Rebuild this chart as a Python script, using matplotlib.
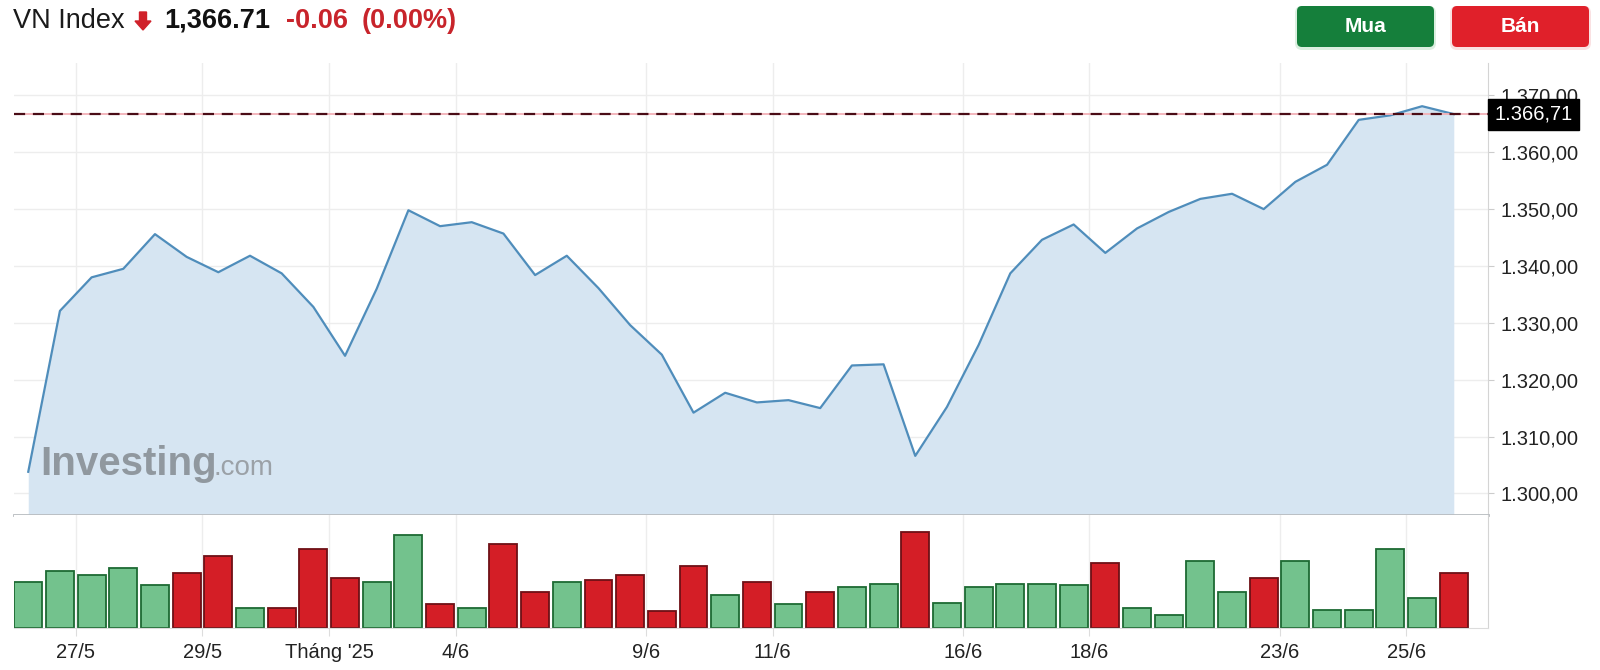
import numpy as np
import matplotlib
matplotlib.use('Agg')
import matplotlib.pyplot as plt
from matplotlib.patches import FancyBboxPatch, FancyArrow
from matplotlib.ticker import FuncFormatter

plt.rcParams['font.family'] = ['Liberation Sans', 'DejaVu Sans']

#### data (2 points per trading day) ####
price = [1303.8, 1332.1, 1338.0, 1339.5, 1345.6, 1341.6, 1338.9, 1341.8, 1338.7, 1332.8,
         1324.2, 1336.0, 1349.8, 1347.0, 1347.7, 1345.7, 1338.4, 1341.8, 1336.1, 1329.6,
         1324.4, 1314.2, 1317.7, 1316.0, 1316.4, 1315.0, 1322.5, 1322.7, 1306.6, 1315.2,
         1326.1, 1338.7, 1344.6, 1347.3, 1342.3, 1346.6, 1349.5, 1351.8, 1352.7, 1350.0,
         1354.8, 1357.8, 1365.7, 1366.5, 1368.1, 1366.71]

# volume, relative units (no scale shown on the chart)
volume = [138, 170, 158, 180, 128, 164, 215, 60, 60, 237,
          150, 138, 278, 72, 60, 252, 107, 138, 143, 159,
          50, 185, 98, 138, 71, 107, 123, 133, 288, 76,
          122, 133, 133, 128, 195, 60, 40, 200, 107, 149,
          200, 55, 55, 237, 91, 164]
direction = ['u', 'u', 'u', 'u', 'u', 'd', 'd', 'u', 'd', 'd',
             'd', 'u', 'u', 'd', 'u', 'd', 'd', 'u', 'd', 'd',
             'd', 'd', 'u', 'd', 'u', 'd', 'u', 'u', 'd', 'u',
             'u', 'u', 'u', 'u', 'd', 'u', 'u', 'u', 'u', 'd',
             'u', 'u', 'u', 'u', 'u', 'd']

date_pos = [1.5, 5.5, 9.5, 13.5, 19.5, 23.5, 29.5, 33.5, 39.5, 43.5]
date_lbl = ['27/5', '29/5', "Tháng '25", '4/6', '9/6', '11/6', '16/6', '18/6', '23/6', '25/6']
yticks = [1300, 1310, 1320, 1330, 1340, 1350, 1360, 1370]

last = price[-1]
change = -0.06
pct = 0.00

#### figure ####
W, H = 1600, 670
fig = plt.figure(figsize=(W / 100, H / 100), dpi=100)
fig.patch.set_facecolor('white')

x0, x1 = 14, 1488
ax = fig.add_axes([x0 / W, (H - 515) / H, (x1 - x0) / W, (515 - 63) / H])
axv = fig.add_axes([x0 / W, (H - 628) / H, (x1 - x0) / W, (628 - 515) / H], sharex=ax)

x = np.arange(len(price))
grid_c = '#ededed'

# price panel
ax.fill_between(x, price, 1296.2, color='#d6e5f2', lw=0, zorder=1)
ax.plot(x, price, color='#4f8dbb', lw=1.6, zorder=3)
ax.axhline(last, color='#f2b0b6', lw=1.3, zorder=4)
ax.axhline(last, color='#4a0c16', lw=1.6, dashes=(5, 3.5), zorder=5)

ax.set_xlim(-0.45, 46.08)
ax.set_ylim(1296.2, 1375.7)
ax.set_yticks(yticks)
ax.yaxis.tick_right()
ax.yaxis.set_major_formatter(FuncFormatter(
    lambda v, p: f"{v:,.2f}".replace(',', 'X').replace('.', ',').replace('X', '.')))
ax.tick_params(axis='y', length=4, color='#cccccc', labelsize=14.5, labelcolor='#222222', pad=5)
ax.tick_params(axis='x', length=0, labelbottom=False)
ax.set_xticks(date_pos)
ax.grid(True, color=grid_c, lw=1, zorder=0)
ax.set_axisbelow(True)
for s in ['top', 'left']:
    ax.spines[s].set_visible(False)
ax.spines['right'].set_color('#d4d4d4')
ax.spines['bottom'].set_color('#b8bcc0')
ax.spines['bottom'].set_linewidth(2)

# last price tag
ax.annotate(f"{last:,.2f}".replace(',', 'X').replace('.', ',').replace('X', '.'),
            xy=(1, last), xycoords=('axes fraction', 'data'),
            xytext=(4.5, 0), textcoords='offset points', ha='left', va='center',
            fontsize=14.5, color='white', annotation_clip=False, zorder=10,
            bbox=dict(boxstyle='square,pad=0.3', fc='black', ec='black'))

# volume panel
fills = ['#73c28d' if d == 'u' else '#d41e26' for d in direction]
edges = ['#1d6a33' if d == 'u' else '#6e1016' for d in direction]
axv.bar(x, volume, width=0.88, color=fills, edgecolor=edges, linewidth=1.3, zorder=2)
axv.set_ylim(0, 339)
axv.set_yticks([])
axv.set_xticks(date_pos)
axv.set_xticklabels(date_lbl)
axv.tick_params(axis='x', length=6, color='#dddddd', labelsize=14.5, labelcolor='#222222', pad=5)
axv.grid(True, axis='x', color=grid_c, lw=1, zorder=0)
axv.set_axisbelow(True)
for s in ['top', 'left']:
    axv.spines[s].set_visible(False)
axv.spines['right'].set_color('#d4d4d4')
axv.spines['bottom'].set_color('#dcdcdc')

#### header ####
yc = 1 - 21 / H
fig.text(13 / W, yc, 'VN Index', fontsize=19.5, color='#1a1a1a', va='center', ha='left')
fig.patches.append(FancyArrow(1.43, 6.58, 0, -0.18, width=0.07, head_width=0.16,
                              head_length=0.09, length_includes_head=True,
                              color='#d0212a', transform=fig.dpi_scale_trans, figure=fig))
fig.text(164 / W, yc, f"{last:,.2f}", fontsize=19.5, weight='bold', color='#111111',
         va='center', ha='left')
fig.text(286 / W, yc, f"{change:.2f}", fontsize=19.5, weight='bold', color='#c8242b',
         va='center', ha='left')
fig.text(362 / W, yc, f"({pct:.2f}%)", fontsize=19.5, weight='bold', color='#c8242b',
         va='center', ha='left')

# buttons
for bx, col, glow, lbl in [(1297, '#157f3b', '#b8e0c2', 'Mua'), (1452, '#e0202a', '#f6c4c6', 'Bán')]:
    shadow = FancyBboxPatch((bx / 100 - 0.02, (H - 50) / 100), 1.41, 0.44,
                            boxstyle='round,pad=0,rounding_size=0.07',
                            transform=fig.dpi_scale_trans, fc=glow, ec='none', alpha=0.5, figure=fig)
    btn = FancyBboxPatch((bx / 100, (H - 47) / 100), 1.37, 0.41,
                         boxstyle='round,pad=0,rounding_size=0.05',
                         transform=fig.dpi_scale_trans, fc=col, ec='none', figure=fig)
    fig.patches.extend([shadow, btn])
    fig.text((bx + 68.5) / W, 1 - 26.5 / H, lbl, fontsize=15, weight='bold', color='white',
             ha='center', va='center')

# watermark
fig.text(40 / W, 1 - 475 / H, 'Investing', fontsize=29, weight='bold', color='#8d949b',
         ha='left', va='baseline', alpha=0.95)
fig.text(213 / W, 1 - 475 / H, '.com', fontsize=20, color='#9ba1a7', ha='left', va='baseline')

fig.savefig('out.png', dpi=100, facecolor='white')
